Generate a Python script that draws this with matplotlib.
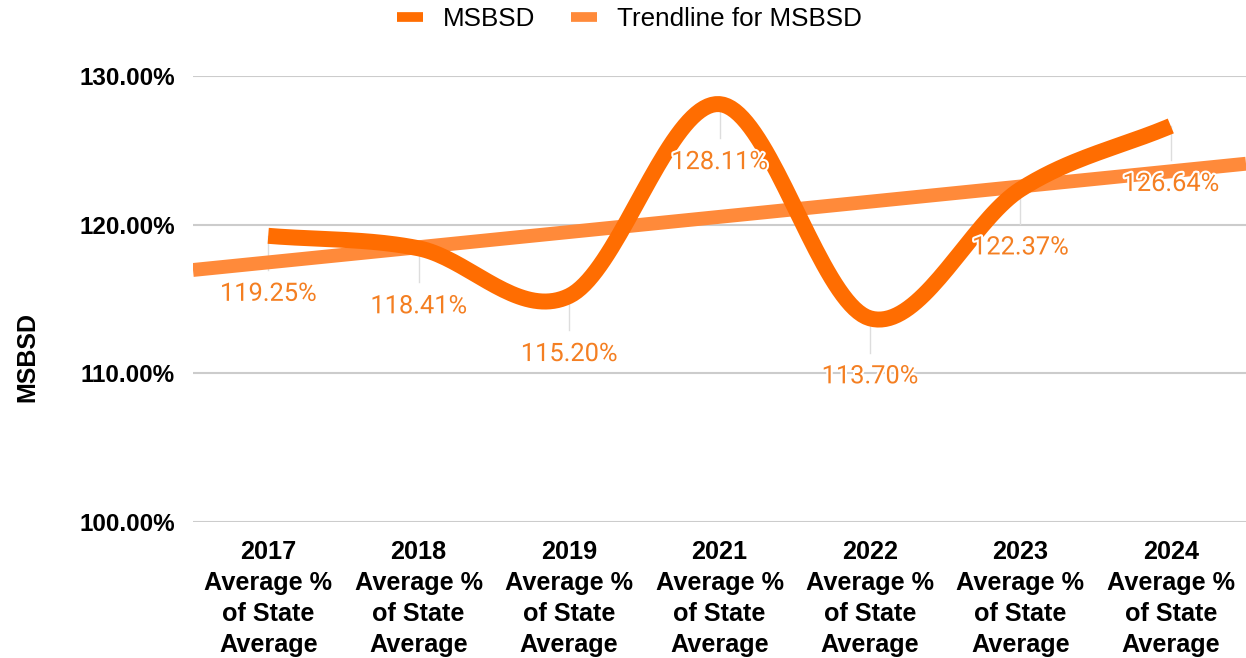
import numpy as np
import matplotlib.pyplot as plt
import matplotlib.patheffects as pe
from matplotlib.lines import Line2D

years = ["2017", "2018", "2019", "2021", "2022", "2023", "2024"]
values = [119.25, 118.41, 115.20, 128.11, 113.70, 122.37, 126.64]
yticks = [100, 110, 120, 130]

main_col = "#ff6d01"
trend_col = "#ff8a3a"
label_col = "#f47f22"

plt.rcParams['font.family'] = ['Liberation Sans', 'DejaVu Sans']


def smooth(x, y, n=40):
    # catmull-rom style curve through the points (like the "smooth" line option)
    x = np.asarray(x, float)
    y = np.asarray(y, float)
    m = np.zeros_like(y)
    m[1:-1] = (y[2:] - y[:-2]) / 2
    m[0] = y[1] - y[0]
    m[-1] = y[-1] - y[-2]
    xs, ys = [], []
    for i in range(len(x) - 1):
        t = np.linspace(0, 1, n)
        h00 = 2 * t**3 - 3 * t**2 + 1
        h10 = t**3 - 2 * t**2 + t
        h01 = -2 * t**3 + 3 * t**2
        h11 = t**3 - t**2
        xs.append(x[i] + t * (x[i + 1] - x[i]))
        ys.append(h00 * y[i] + h10 * m[i] + h01 * y[i + 1] + h11 * m[i + 1])
    return np.concatenate(xs), np.concatenate(ys)


fig = plt.figure(figsize=(12.46, 6.58), dpi=100)
ax = fig.add_axes([193 / 1246, 1 - 522 / 658, 1 - 193 / 1246, (522 - 76) / 658])

x = np.arange(len(values))

# grid
for v in yticks:
    ax.axhline(v, color="#cccccc", lw=1.5, zorder=0)

# small leader ticks under each point
for xi, v in zip(x, values):
    ax.plot([xi, xi], [v, v - 2.3], color="#dddddd", lw=1, zorder=1)

# trendline (linear fit on category index)
k, b = np.polyfit(x, values, 1)
tx = np.array([-0.5, len(values) - 0.5])
ax.plot(tx, k * tx + b, color=trend_col, lw=10, solid_capstyle="butt", zorder=2)

sx, sy = smooth(x, values)
ax.plot(sx, sy, color=main_col, lw=11.5, solid_capstyle="butt", zorder=3, clip_on=False)

for xi, v in zip(x, values):
    ax.annotate(f"{v:.2f}%", (xi, v), xytext=(0, -58), textcoords="offset pixels",
                ha="center", va="center", fontsize=18.3, color=label_col,
                family=["Roboto", "DejaVu Sans"], zorder=4,
                path_effects=[pe.withStroke(linewidth=3, foreground="white")])

ax.set_xlim(-0.5, len(values) - 0.5)
ax.set_ylim(100, 130)
ax.set_yticks(yticks)
ax.set_yticklabels([f"{v:.2f}%" for v in yticks], fontsize=17.5, fontweight="bold")
ax.set_xticks(x)
ax.set_xticklabels([f"{y}\nAverage %\nof State\nAverage" for y in years],
                   fontsize=18.2, fontweight="bold", linespacing=1.36)
ax.tick_params(axis="y", length=0, pad=13)
ax.tick_params(axis="x", length=0, pad=13)
for s in ax.spines.values():
    s.set_visible(False)

fig.text(27 / 1246, 1 - 357 / 658, "MSBSD", rotation=90, ha="center", va="center",
         fontsize=18, fontweight="bold")

handles = [Line2D([], [], color=main_col, lw=7, solid_capstyle="butt"),
           Line2D([], [], color=trend_col, lw=7, solid_capstyle="butt")]
fig.legend(handles, ["MSBSD", "Trendline for MSBSD"], loc="upper center",
           bbox_to_anchor=(0.505, 1.025), ncol=2, frameon=False, fontsize=18.7,
           handlelength=1.0, handletextpad=0.75, columnspacing=1.4)

fig.savefig("out.png", dpi=100)
